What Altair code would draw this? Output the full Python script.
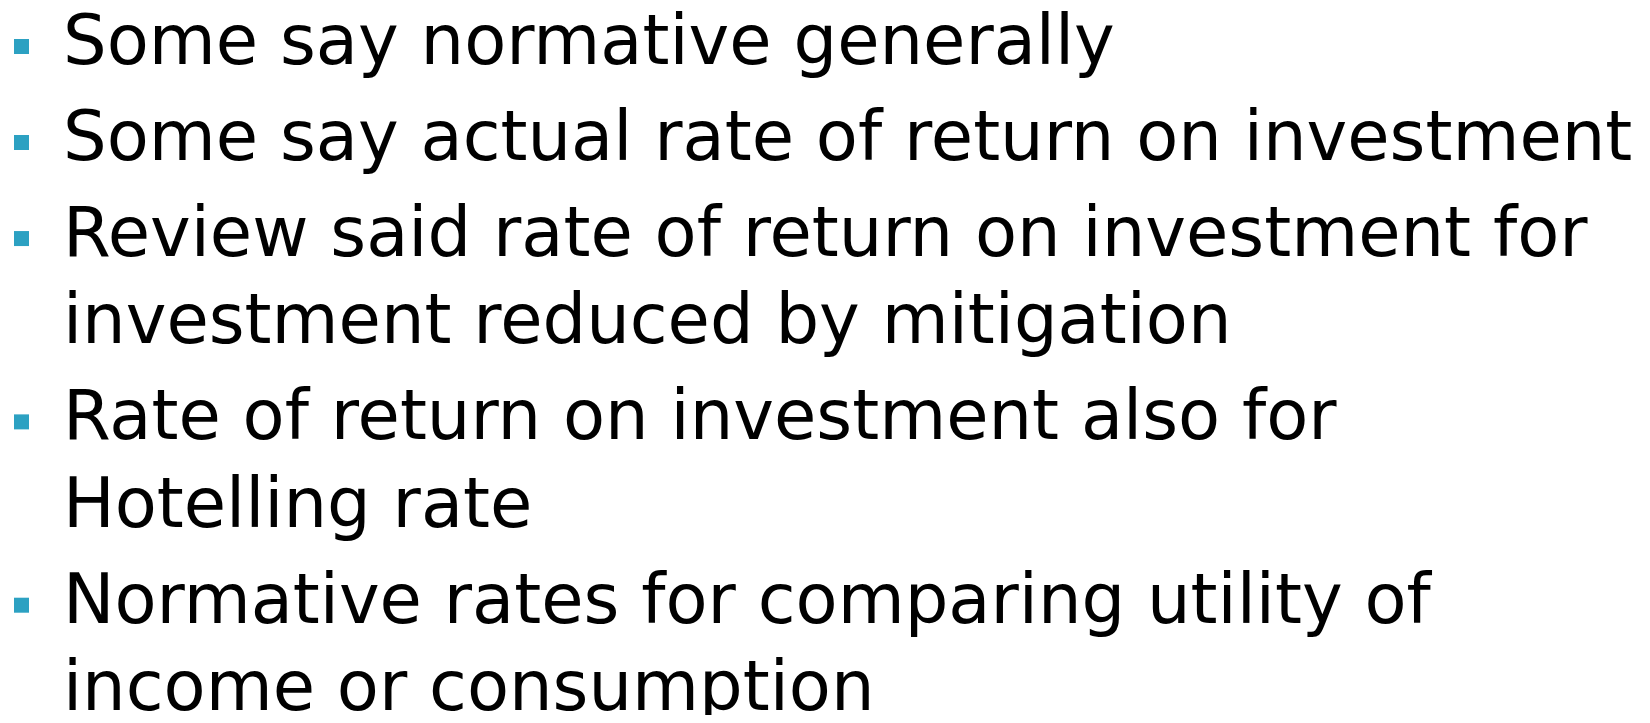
import altair as alt
import pandas as pd

# Slide content: each bullet item with its wrapped lines
items = [
    ["Some say normative generally"],
    ["Some say actual rate of return on investment"],
    ["Review said rate of return on investment for", "investment reduced by mitigation"],
    ["Rate of return on investment also for", "Hotelling rate"],
    ["Normative rates for comparing utility of", "income or consumption"],
]

BULLET_GAP = 1.1   # spacing before a new bullet (in line units)
LINE_GAP = 1.0     # spacing between wrapped lines

rows = []
pos = 0.0
first = True
for item in items:
    for j, line in enumerate(item):
        if not first:
            pos += BULLET_GAP if j == 0 else LINE_GAP
        first = False
        rows.append({"text": line, "pos": round(pos, 3), "bullet": j == 0})
df = pd.DataFrame(rows)
last = df["pos"].max()

W, H = 1634, 707
yscale = alt.Scale(domain=[0, last], range=[56, 702], zero=False, nice=False)

base = alt.Chart(df)

text = base.mark_text(
    align="left", baseline="alphabetic", font="DejaVu Sans",
    fontSize=68.8, color="#000000"
).encode(
    x=alt.value(55),
    y=alt.Y("pos:Q", scale=yscale, axis=None),
    text="text:N",
)

bullets = base.transform_filter("datum.bullet").mark_square(
    size=225, color="#2ca1c2", opacity=1, filled=True, yOffset=-17.5
).encode(
    x=alt.value(13.5),
    y=alt.Y("pos:Q", scale=yscale, axis=None),
)

chart = alt.layer(bullets, text).properties(
    width=W, height=H, padding=0, autosize=alt.AutoSizeParams(type="none")
).configure(background="#ffffff").configure_view(stroke=None, strokeWidth=0)

chart.save("out.html", embed_options={"renderer": "svg", "actions": False})
